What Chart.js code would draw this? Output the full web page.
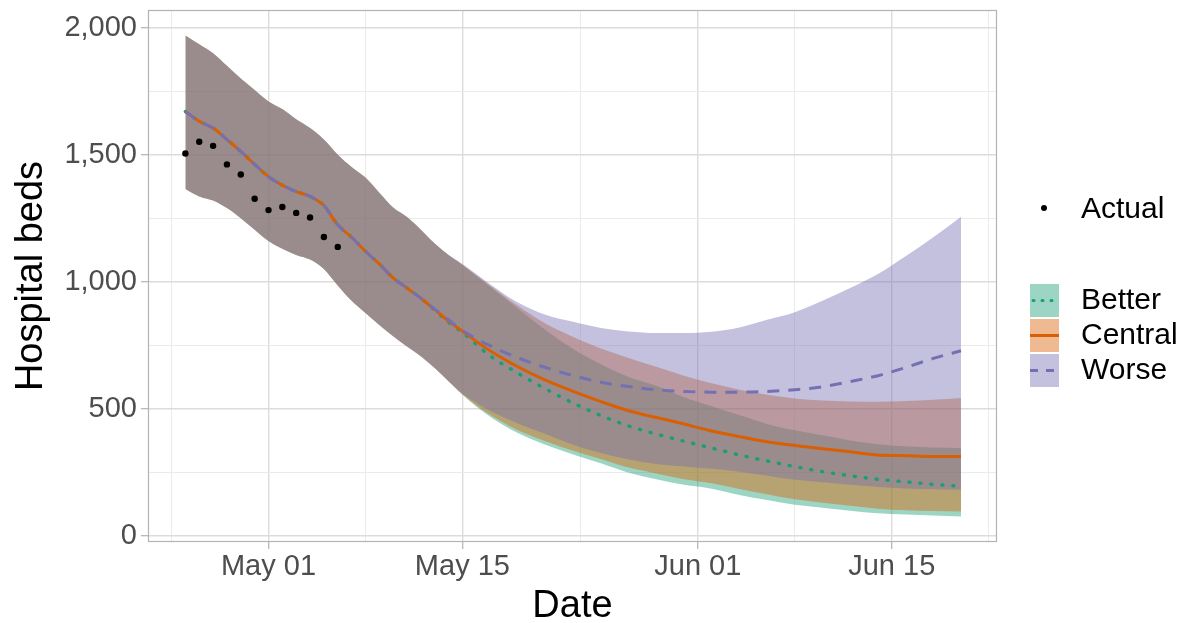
<!DOCTYPE html>
<html>
<head>
<meta charset="utf-8">
<title>Hospital beds</title>
<script src="https://cdn.jsdelivr.net/npm/chart.js@4.4.1/dist/chart.umd.min.js"></script>
<style>
  body { margin: 0; background: #fff; }
  #wrap { width: 1195px; height: 623px; }
</style>
</head>
<body>
<div id="wrap"><canvas id="bedsChart"></canvas></div>
<script>
// day numbers are counted from May 01 (Apr 25 = -6, Jun 20 = 50)
const days = [-6, -5, -4, -3, -2, -1, 0, 1, 2, 3, 4, 5, 6, 7, 8, 9, 10, 11, 12, 13,
  14, 16, 18, 20, 22, 24, 26, 28, 30, 32, 34, 36, 38, 40, 42, 44, 46, 48, 50];

const actualDays = [-6, -5, -4, -3, -2, -1, 0, 1, 2, 3, 4, 5];
const actualBeds = [1505, 1551, 1535, 1462, 1422, 1327, 1282, 1294, 1271, 1253, 1176, 1137];

// projections (centre lines)
const betterLine = [1670, 1632, 1605, 1560, 1513, 1462, 1414, 1380, 1355, 1336, 1300, 1224, 1175, 1120, 1070, 1015, 975, 935, 888, 840,
  800, 708, 640, 578, 522, 473, 432, 400, 372, 345, 318, 294, 272, 252, 236, 222, 212, 202, 195];
const centralLine = [1670, 1632, 1605, 1560, 1513, 1462, 1414, 1380, 1355, 1336, 1300, 1224, 1175, 1120, 1070, 1015, 975, 935, 890, 845,
  805, 728, 665, 612, 568, 528, 492, 465, 440, 412, 390, 370, 355, 342, 330, 318, 315, 312, 312];
const worseLine = [1670, 1632, 1605, 1560, 1513, 1462, 1414, 1380, 1355, 1336, 1300, 1224, 1175, 1120, 1070, 1015, 975, 935, 892, 850,
  808, 748, 700, 662, 630, 604, 587, 575, 568, 565, 565, 568, 575, 586, 607, 630, 662, 698, 728];

// uncertainty bands
const betterLow = [1365, 1336, 1320, 1290, 1250, 1205, 1160, 1130, 1105, 1087, 1050, 985, 925, 877, 830, 785, 745, 706, 660, 608,
  555, 468, 404, 358, 320, 285, 248, 222, 200, 185, 160, 140, 122, 110, 98, 88, 83, 79, 75];
const betterHigh = [1970, 1935, 1900, 1850, 1800, 1755, 1710, 1680, 1640, 1605, 1560, 1500, 1452, 1410, 1350, 1292, 1255, 1205, 1150, 1105,
  1065, 980, 895, 810, 735, 675, 625, 590, 545, 510, 475, 440, 415, 395, 375, 360, 352, 347, 345];
const centralLow = [1365, 1336, 1320, 1290, 1250, 1205, 1160, 1130, 1105, 1087, 1050, 985, 925, 877, 830, 785, 745, 706, 660, 608,
  557, 476, 415, 372, 334, 302, 268, 245, 222, 206, 184, 163, 143, 130, 118, 106, 100, 97, 95];
const centralHigh = [1970, 1935, 1900, 1850, 1800, 1755, 1710, 1680, 1640, 1605, 1560, 1500, 1452, 1410, 1350, 1292, 1255, 1205, 1150, 1105,
  1068, 985, 905, 835, 782, 737, 700, 665, 630, 600, 575, 555, 540, 532, 528, 527, 530, 535, 542];
const worseLow = [1365, 1336, 1320, 1290, 1250, 1205, 1160, 1130, 1105, 1087, 1050, 985, 925, 877, 830, 785, 745, 706, 660, 608,
  560, 492, 442, 400, 358, 325, 300, 282, 272, 263, 252, 236, 220, 210, 200, 192, 186, 183, 181];
const worseHigh = [1970, 1935, 1900, 1850, 1800, 1755, 1710, 1680, 1640, 1605, 1560, 1500, 1452, 1410, 1350, 1292, 1255, 1205, 1150, 1105,
  1070, 990, 918, 870, 842, 818, 804, 798, 798, 803, 820, 850, 880, 925, 975, 1030, 1100, 1175, 1256];

// axes
const xTickDays = [0, 14, 31, 45];
const xTickLabels = ['May 01', 'May 15', 'Jun 01', 'Jun 15'];
const xMinorDays = [-7, 7, 22.5, 38, 52];
const yTicks = [0, 500, 1000, 1500, 2000];
const yMinorTicks = [250, 750, 1250, 1750];

const scenarioNames = ['Better', 'Central', 'Worse'];
const lineColors = ['#1b9e77', '#d95f02', '#7570b3'];
const bandColors = ['rgba(27,158,119,0.43)', 'rgba(217,95,2,0.43)', 'rgba(117,112,179,0.43)'];
const lineDashes = [[1, 10], [], [12, 9]];

function pts(xs, ys) {
    return xs.map((x, i) => ({ x: x, y: ys[i] }));
}

function lineSet(label, ys, i) {
    return {
        label: label,
        data: pts(days, ys),
        borderColor: lineColors[i],
        borderWidth: i === 0 ? 3.5 : 3,
        borderDash: lineDashes[i],
        borderCapStyle: i === 0 ? 'round' : 'butt',
        pointRadius: 0,
        fill: false,
        cubicInterpolationMode: 'monotone'
    };
}

function bandSet(ys, i, fillIt) {
    return {
        data: pts(days, ys),
        borderColor: 'transparent',
        borderWidth: 0,
        pointRadius: 0,
        backgroundColor: bandColors[i],
        fill: fillIt ? '-1' : false,
        cubicInterpolationMode: 'monotone'
    };
}

const FONT = '"Liberation Sans", Arial, sans-serif';
Chart.defaults.font.family = FONT;

// panel border like ggplot
const panelBorder = {
    id: 'panelBorder',
    afterDatasetsDraw(chart) {
        const a = chart.chartArea;
        const ctx = chart.ctx;
        ctx.save();
        ctx.strokeStyle = '#b3b3b3';
        ctx.lineWidth = 1.2;
        ctx.strokeRect(a.left + 0.5, a.top + 0.5, a.right - a.left - 1, a.bottom - a.top - 1);
        ctx.restore();
    }
};

// legend on the right side
const sideLegend = {
    id: 'sideLegend',
    afterDraw(chart) {
        const ctx = chart.ctx;
        ctx.save();
        ctx.font = '30px ' + FONT;
        ctx.textBaseline = 'middle';
        ctx.fillStyle = '#000';
        ctx.beginPath();
        ctx.arc(1044, 208, 3, 0, Math.PI * 2);
        ctx.fill();
        ctx.fillText('Actual', 1081, 210);

        scenarioNames.forEach((name, i) => {
            const top = 284 + i * 35;
            ctx.fillStyle = bandColors[i];
            ctx.fillRect(1030, top, 29, 33);
            ctx.strokeStyle = lineColors[i];
            ctx.lineWidth = 3;
            ctx.lineCap = i === 0 ? 'round' : 'butt';
            ctx.setLineDash(i === 0 ? [1, 8] : (i === 2 ? [8, 8] : []));
            ctx.beginPath();
            ctx.moveTo(i === 0 ? 1033 : 1030, top + 16.5);
            ctx.lineTo(1059, top + 16.5);
            ctx.stroke();
            ctx.setLineDash([]);
            ctx.fillStyle = '#000';
            ctx.fillText(name, 1081, top + 17);
        });
        ctx.restore();
    }
};

function zeroPad(scale) {
    scale.paddingTop = 0;
    scale.paddingBottom = 0;
    scale.paddingLeft = 0;
    scale.paddingRight = 0;
}

const ctx = document.getElementById('bedsChart').getContext('2d');
new Chart(ctx, {
    type: 'line',
    data: {
        datasets: [
            {
                label: 'Actual',
                data: pts(actualDays, actualBeds),
                showLine: false,
                pointRadius: 3.2,
                pointBorderWidth: 0,
                pointBackgroundColor: '#000',
                borderColor: '#000'
            },
            lineSet('Worse', worseLine, 2),
            lineSet('Central', centralLine, 1),
            lineSet('Better', betterLine, 0),
            bandSet(worseLow, 2, false),
            bandSet(worseHigh, 2, true),
            bandSet(centralLow, 1, false),
            bandSet(centralHigh, 1, true),
            bandSet(betterLow, 0, false),
            bandSet(betterHigh, 0, true)
        ]
    },
    options: {
        responsive: true,
        maintainAspectRatio: false,
        animation: false,
        layout: { padding: { top: 10, right: 198, bottom: 0, left: 0 } },
        plugins: {
            legend: { display: false },
            tooltip: { enabled: false },
            filler: { drawTime: 'beforeDatasetsDraw' }
        },
        scales: {
            x: {
                type: 'linear',
                min: -8.7,
                max: 52.6,
                afterBuildTicks: scale => {
                    scale.ticks = xTickDays.concat(xMinorDays).sort((a, b) => a - b).map(v => ({ value: v }));
                },
                afterFit: scale => { scale.height = 81; zeroPad(scale); },
                ticks: {
                    autoSkip: false,
                    maxRotation: 0,
                    padding: 1,
                    color: '#4d4d4d',
                    font: { size: 29 },
                    callback: v => {
                        const i = xTickDays.indexOf(v);
                        return i >= 0 ? xTickLabels[i] : '';
                    }
                },
                grid: {
                    color: c => xTickDays.includes(c.tick.value) ? '#dcdcdc' : '#ebebeb',
                    lineWidth: c => xTickDays.includes(c.tick.value) ? 1.4 : 1,
                    tickColor: c => xTickDays.includes(c.tick.value) ? '#b3b3b3' : 'rgba(0,0,0,0)',
                    tickWidth: 1.2,
                    tickLength: 7
                },
                border: { display: false },
                title: {
                    display: true,
                    text: 'Date',
                    color: '#000',
                    font: { size: 38, lineHeight: 0.85 },
                    padding: 0
                }
            },
            y: {
                type: 'linear',
                min: -25,
                max: 2070,
                afterBuildTicks: scale => {
                    scale.ticks = yTicks.concat(yMinorTicks).sort((a, b) => a - b).map(v => ({ value: v }));
                },
                afterFit: scale => { scale.width = 148; zeroPad(scale); },
                ticks: {
                    autoSkip: false,
                    padding: 4,
                    color: '#4d4d4d',
                    font: { size: 29 },
                    callback: v => yTicks.includes(v) ? v.toLocaleString('en-US') : ''
                },
                grid: {
                    color: c => yTicks.includes(c.tick.value) ? '#dcdcdc' : '#ebebeb',
                    lineWidth: c => yTicks.includes(c.tick.value) ? 1.4 : 1,
                    tickColor: c => yTicks.includes(c.tick.value) ? '#b3b3b3' : 'rgba(0,0,0,0)',
                    tickWidth: 1.2,
                    tickLength: 7
                },
                border: { display: false },
                title: {
                    display: true,
                    text: 'Hospital beds',
                    color: '#000',
                    font: { size: 38 },
                    padding: { top: 9, bottom: 0 }
                }
            }
        }
    },
    plugins: [panelBorder, sideLegend]
});
</script>
</body>
</html>
